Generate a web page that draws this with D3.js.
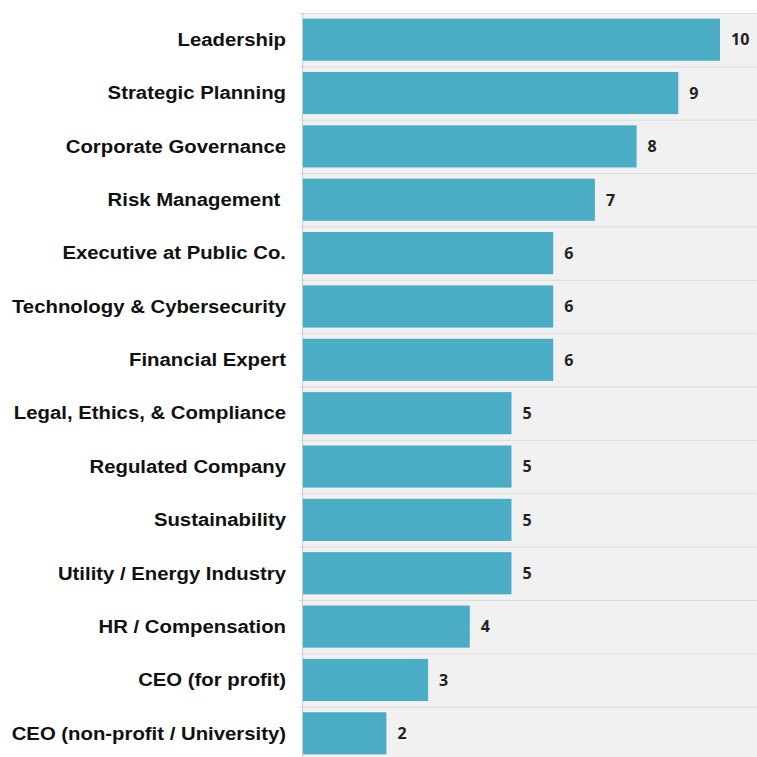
<!DOCTYPE html>
<html>
<head>
<meta charset="utf-8">
<script src="https://cdn.jsdelivr.net/npm/d3@7"></script>
<style>
  body { margin: 0; background: #fff; }
</style>
</head>
<body>
<svg id="chart" width="757" height="757"></svg>
<script>
const skills = [
    "Leadership",
    "Strategic Planning",
    "Corporate Governance",
    "Risk Management ",
    "Executive at Public Co.",
    "Technology & Cybersecurity",
    "Financial Expert",
    "Legal, Ethics, & Compliance",
    "Regulated Company",
    "Sustainability",
    "Utility / Energy Industry",
    "HR / Compensation",
    "CEO (for profit)",
    "CEO (non-profit / University)"
];
const counts = [10, 9, 8, 7, 6, 6, 6, 5, 5, 5, 5, 4, 3, 2];

const data = skills.map((s, i) => ({skill: s, count: counts[i]}));

const svg = d3.select("#chart");

// plot area
const plotLeft = 303, plotTop = 13, plotRight = 757, plotBottom = 760;

const x = d3.scaleLinear().domain([0, 10]).range([plotLeft, 720]);
const y = d3.scaleBand().domain(skills).range([plotTop, plotBottom]).paddingInner(0.21).paddingOuter(0.105);

svg.append("rect")
    .attr("x", plotLeft).attr("y", plotTop)
    .attr("width", plotRight - plotLeft).attr("height", plotBottom - plotTop)
    .attr("fill", "#f1f1f1");

// horizontal grid lines at band boundaries
const step = y.step();
const bounds = d3.range(skills.length + 1).map(i => plotTop + i * step);
svg.append("g").selectAll("line")
    .data(bounds)
    .join("line")
    .attr("x1", plotLeft - 4).attr("x2", plotRight)
    .attr("y1", d => d + 0.5).attr("y2", d => d + 0.5)
    .attr("stroke", "#dcdcdc")
    .attr("stroke-width", 1);

// axis line
svg.append("line")
    .attr("x1", plotLeft - 0.5).attr("x2", plotLeft - 0.5)
    .attr("y1", plotTop).attr("y2", plotBottom)
    .attr("stroke", "#c8c8c8");

// bars
svg.append("g").selectAll("rect")
    .data(data)
    .join("rect")
    .attr("x", plotLeft)
    .attr("y", d => y(d.skill))
    .attr("width", d => x(d.count) - plotLeft)
    .attr("height", y.bandwidth())
    .attr("fill", "#4bacc6");

// category labels (slightly stretched horizontally like the source)
svg.append("g").selectAll("text")
    .data(data)
    .join("text")
    .attr("transform", d => `translate(286,${y(d.skill) + y.bandwidth() / 2}) scale(1.13,1)`)
    .attr("dy", "0.35em")
    .attr("text-anchor", "end")
    .attr("font-family", "Liberation Sans, Arial, sans-serif")
    .attr("font-weight", "bold")
    .attr("font-size", 18)
    .attr("fill", "#111")
    .style("white-space", "pre")
    .text(d => d.skill);

// value labels
svg.append("g").selectAll("text")
    .data(data)
    .join("text")
    .attr("x", d => x(d.count) + 11)
    .attr("y", d => y(d.skill) + y.bandwidth() / 2)
    .attr("dy", "0.36em")
    .attr("font-family", "Open Sans, Liberation Sans, sans-serif")
    .attr("font-weight", "bold")
    .attr("font-size", 16)
    .attr("fill", "#222")
    .text(d => d.count);
</script>
</body>
</html>
